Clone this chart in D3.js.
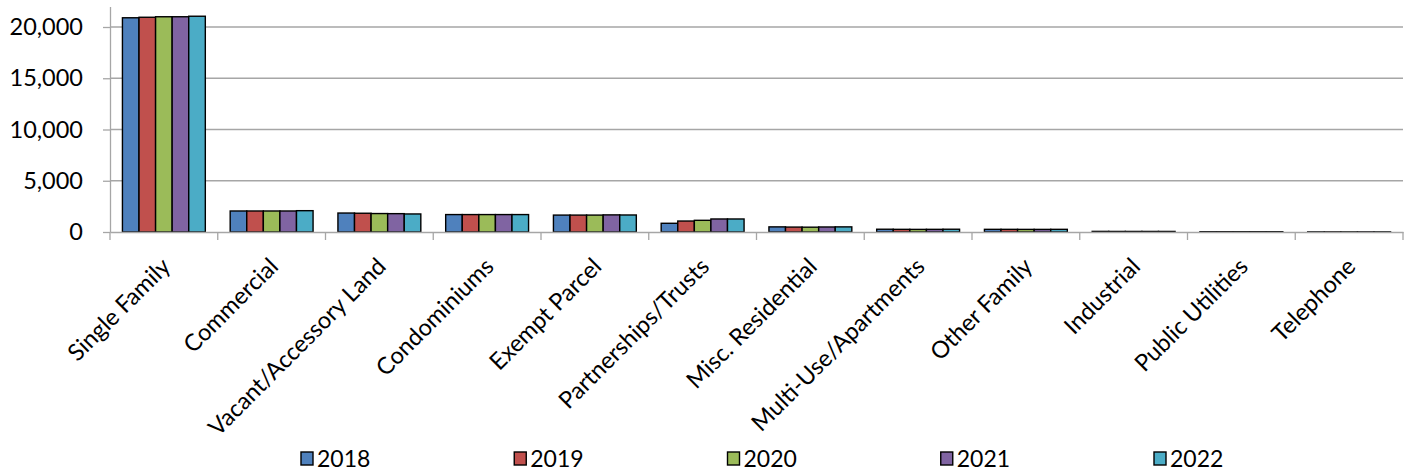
<!DOCTYPE html>
<html>
<head>
<meta charset="utf-8">
<script src="https://cdn.jsdelivr.net/npm/d3@7"></script>
<style>
  body { margin: 0; background: #fff; }
  svg text { font-family: Lato, "Open Sans", sans-serif; fill: #000; }
</style>
</head>
<body>
<div id="chart"></div>
<script>
// parcel counts by class, one array per year
const categories = ["Single Family", "Commercial", "Vacant/Accessory Land", "Condominiums", "Exempt Parcel",
    "Partnerships/Trusts", "Misc. Residential", "Multi-Use/Apartments", "Other Family", "Industrial",
    "Public Utilities", "Telephone"];
const years = ["2018", "2019", "2020", "2021", "2022"];
const v2018 = [20900, 2050, 1850, 1700, 1650, 850, 500, 270, 260, 60, 25, 10];
const v2019 = [20950, 2050, 1830, 1700, 1650, 1070, 480, 260, 260, 55, 25, 10];
const v2020 = [21000, 2050, 1800, 1700, 1650, 1140, 470, 255, 255, 55, 25, 10];
const v2021 = [21000, 2050, 1790, 1700, 1670, 1270, 490, 260, 255, 55, 25, 10];
const v2022 = [21050, 2080, 1760, 1700, 1660, 1270, 500, 270, 260, 55, 25, 10];
const yTicks = [0, 5000, 10000, 15000, 20000];
const colors = ["#4F81BD", "#C0504D", "#9BBB59", "#8064A2", "#4BACC6"];

const series = [v2018, v2019, v2020, v2021, v2022];

const width = 1413, height = 471;
const margin = {top: 6.5, left: 110, right: 10, bottom: 239};

const svg = d3.select("#chart").append("svg")
    .attr("width", width)
    .attr("height", height);

// scales
const x = d3.scaleBand()
    .domain(categories)
    .range([margin.left, width - margin.right]);

const xSub = d3.scaleBand()
    .domain(years)
    .range([0, x.bandwidth()])
    .paddingInner(0)
    .paddingOuter(0.75);

const y = d3.scaleLinear()
    .domain([0, 22000])
    .range([height - margin.bottom, margin.top]);

// gridlines
svg.append("g")
    .selectAll("line")
    .data(yTicks.filter(d => d > 0))
    .join("line")
    .attr("x1", margin.left)
    .attr("x2", width - margin.right)
    .attr("y1", d => y(d))
    .attr("y2", d => y(d))
    .attr("stroke", "#a6a6a6")
    .attr("stroke-width", 1.3);

// y axis
const yAxis = d3.axisLeft(y)
    .tickValues(yTicks)
    .tickSizeInner(7)
    .tickSizeOuter(0)
    .tickPadding(20)
    .tickFormat(d3.format(","));

const gy = svg.append("g")
    .attr("transform", `translate(${margin.left},0)`)
    .call(yAxis);
gy.select(".domain").attr("stroke", "#a6a6a6").attr("stroke-width", 1.3);
gy.selectAll(".tick line").attr("stroke", "#a6a6a6").attr("stroke-width", 1.3);
gy.selectAll(".tick text").style("font-size", "23.5px");

// bars
const groups = svg.append("g")
    .selectAll("g")
    .data(categories)
    .join("g")
    .attr("transform", d => `translate(${x(d)},0)`);

groups.selectAll("rect")
    .data((d, i) => years.map((yr, j) => ({year: yr, value: series[j][i], color: colors[j]})))
    .join("rect")
    .attr("x", d => xSub(d.year))
    .attr("width", xSub.bandwidth())
    .attr("y", d => y(d.value))
    .attr("height", d => y(0) - y(d.value))
    .attr("fill", d => d.color)
    .attr("stroke", "#000")
    .attr("stroke-width", 1.4);

// x axis
const xAxis = d3.axisBottom(x).tickSize(0).tickFormat("");
const gx = svg.append("g")
    .attr("transform", `translate(0,${y(0)})`)
    .call(xAxis);
gx.select(".domain").attr("stroke", "#a6a6a6").attr("stroke-width", 1.3);

// category tick marks sit on band edges
svg.append("g")
    .selectAll("line")
    .data(categories.map(c => x(c)).concat([x.range()[1]]))
    .join("line")
    .attr("x1", d => d)
    .attr("x2", d => d)
    .attr("y1", y(0))
    .attr("y2", y(0) + 8)
    .attr("stroke", "#a6a6a6")
    .attr("stroke-width", 1.3);

// rotated category labels
svg.append("g")
    .selectAll("text")
    .data(categories)
    .join("text")
    .attr("transform", d => `translate(${x(d) + x.bandwidth() / 2 + 8},${y(0) + 36}) rotate(-45)`)
    .attr("text-anchor", "end")
    .style("font-size", "23.5px")
    .text(d => d);

// legend
const lx = d3.scalePoint().domain(years).range([301, 1154]);
const legend = svg.append("g")
    .selectAll("g")
    .data(years)
    .join("g")
    .attr("transform", d => `translate(${lx(d)},452)`);

legend.append("rect")
    .attr("width", 12)
    .attr("height", 13)
    .attr("fill", (d, i) => colors[i])
    .attr("stroke", "#000")
    .attr("stroke-width", 1.4);

legend.append("text")
    .attr("x", 16)
    .attr("y", 14.5)
    .style("font-size", "23px")
    .text(d => d);
</script>
</body>
</html>
